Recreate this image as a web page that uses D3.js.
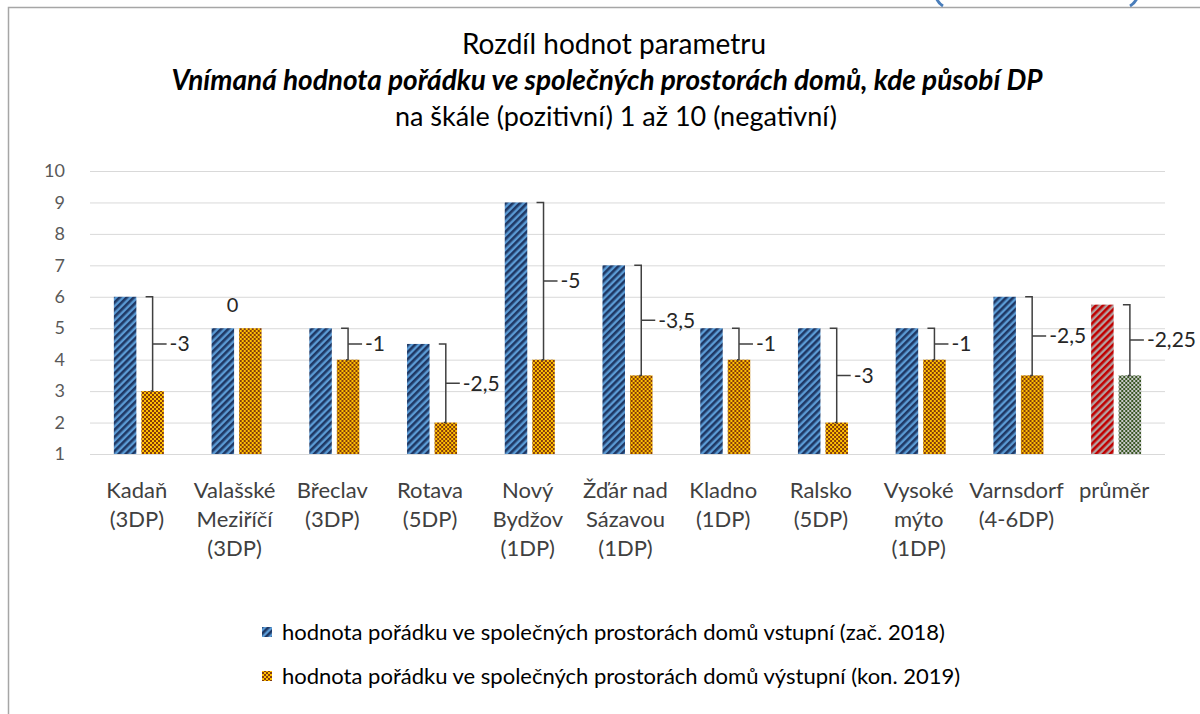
<!DOCTYPE html>
<html>
<head>
<meta charset="utf-8">
<script src="https://cdn.jsdelivr.net/npm/d3@7"></script>
<style>
  html, body { margin: 0; padding: 0; background: #fff; }
  svg { display: block; font-family: Lato, "Noto Sans", sans-serif; }
</style>
</head>
<body>
<svg id="chart" width="1200" height="714"></svg>
<script>
// chart data
const categories = [
  "Kadaň\n(3DP)", "Valašské\nMeziříčí\n(3DP)", "Břeclav\n(3DP)", "Rotava\n(5DP)",
  "Nový\nBydžov\n(1DP)", "Žďár nad\nSázavou\n(1DP)", "Kladno\n(1DP)", "Ralsko\n(5DP)",
  "Vysoké\nmýto\n(1DP)", "Varnsdorf\n(4-6DP)", "průměr"
];
const entryValues = [6, 5, 5, 4.5, 9, 7, 5, 5, 5, 6, 5.75];
const exitValues = [3, 5, 4, 2, 4, 3.5, 4, 2, 4, 3.5, 3.5];
const yTicks = [1, 2, 3, 4, 5, 6, 7, 8, 9, 10];
const titleLines = [
  "Rozdíl hodnot parametru",
  "Vnímaná hodnota pořádku ve společných prostorách domů, kde působí DP",
  "na škále (pozitivní) 1 až 10 (negativní)"
];
const legendLabels = [
  "hodnota pořádku ve společných prostorách domů vstupní (zač. 2018)",
  "hodnota pořádku ve společných prostorách domů výstupní (kon. 2019)"
];

const svg = d3.select("#chart");
const defs = svg.append("defs");

// hatch patterns, roughly like the office fills
function stripes(id, bg, fg) {
  let p = defs.append("pattern").attr("id", id)
    .attr("patternUnits", "userSpaceOnUse")
    .attr("width", 5).attr("height", 5)
    .attr("patternTransform", "rotate(45)");
  p.append("rect").attr("width", 5).attr("height", 5).attr("fill", bg);
  p.append("rect").attr("width", 2.6).attr("height", 5).attr("fill", fg);
}
function checks(id, bg, fg) {
  let p = defs.append("pattern").attr("id", id)
    .attr("patternUnits", "userSpaceOnUse")
    .attr("width", 4).attr("height", 4);
  p.append("rect").attr("width", 4).attr("height", 4).attr("fill", bg);
  p.append("rect").attr("width", 2).attr("height", 2).attr("fill", fg);
  p.append("rect").attr("x", 2).attr("y", 2).attr("width", 2).attr("height", 2).attr("fill", fg);
}
stripes("blueHatch", "#5b9bd5", "#1f3864");
stripes("redHatch", "#b4a0a0", "#c00000");
checks("orangeCheck", "#ffc000", "#843c0c");
checks("greenCheck", "#c8c8c8", "#385723");

// outer frame and the blue marks above it
svg.append("path")
  .attr("d", "M8.5,714 V7.5 H1200")
  .attr("fill", "none").attr("stroke", "#a6a6a6").attr("stroke-width", 1.5);
svg.append("path").attr("d", "M935,-8 Q936,2 943,6")
  .attr("fill", "none").attr("stroke", "#4a7ebb").attr("stroke-width", 3);
svg.append("path").attr("d", "M1139,-8 Q1137,2 1130,6")
  .attr("fill", "none").attr("stroke", "#4a7ebb").attr("stroke-width", 3);

// titles
const title = svg.append("g").attr("text-anchor", "middle").attr("fill", "#000");
title.append("text").attr("x", 614).attr("y", 54)
  .style("font-size", "28px").text(titleLines[0]);
title.append("text").attr("x", 607).attr("y", 90)
  .style("font-size", "28px").style("font-weight", "bold").style("font-style", "italic")
  .text(titleLines[1]);
title.append("text").attr("x", 616).attr("y", 126)
  .style("font-size", "27px").text(titleLines[2]);

// scales
const x0 = d3.scaleBand().domain(categories).range([90, 1165]).padding(0);
const x1 = d3.scaleBand().domain(["entry", "exit"]).range([0, x0.bandwidth()])
  .paddingInner(0.1818).paddingOuter(0.867);
const y = d3.scaleLinear().domain([1, 10]).range([454, 171]);

// grid + y labels
const yAxis = svg.append("g").attr("transform", "translate(90,0)")
  .call(d3.axisLeft(y).tickValues(yTicks).tickSize(-1075).tickPadding(25).tickFormat(d3.format("d")));
yAxis.select(".domain").remove();
yAxis.selectAll(".tick line").attr("stroke", "#d9d9d9");
yAxis.selectAll(".tick text").attr("fill", "#595959")
  .style("font-size", "18px").style("font-family", "Lato, sans-serif");

// bars
const last = categories.length - 1;
const rows = categories.map((c, i) => ({ cat: c, i: i, entry: entryValues[i], exit: exitValues[i] }));

const groups = svg.append("g").selectAll("g").data(rows).join("g")
  .attr("transform", d => "translate(" + x0(d.cat) + ",0)");

groups.append("rect")
  .attr("x", x1("entry")).attr("width", x1.bandwidth())
  .attr("y", d => y(d.entry)).attr("height", d => y(1) - y(d.entry))
  .attr("fill", d => d.i === last ? "url(#redHatch)" : "url(#blueHatch)");
groups.append("rect")
  .attr("x", x1("exit")).attr("width", x1.bandwidth())
  .attr("y", d => y(d.exit)).attr("height", d => y(1) - y(d.exit))
  .attr("fill", d => d.i === last ? "url(#greenCheck)" : "url(#orangeCheck)");

// difference brackets
const fmt = v => String(v).replace(".", ",");
groups.each(function(d) {
  let g = d3.select(this);
  let diff = d.exit - d.entry;
  let bx = x1("exit") + x1.bandwidth() / 2;
  if (diff === 0) {
    g.append("text").attr("x", x0.bandwidth() / 2 - 4).attr("y", y(d.entry) - 16)
      .attr("text-anchor", "middle").attr("fill", "#262626").style("font-size", "20px")
      .text(fmt(diff));
    return;
  }
  let top = y(d.entry), bot = y(d.exit), mid = (top + bot) / 2;
  g.append("path")
    .attr("d", "M" + (bx - 7) + "," + top + " H" + bx + " V" + bot + " H" + (bx - 2)
      + " M" + bx + "," + mid + " H" + (bx + 14))
    .attr("fill", "none").attr("stroke", "#404040").attr("stroke-width", 1.5);
  g.append("text").attr("x", bx + 17).attr("y", mid).attr("dy", "0.35em")
    .attr("fill", "#262626").style("font-size", "21px").text(fmt(diff));
});

// category labels
groups.append("text")
  .attr("text-anchor", "middle").attr("fill", "#404040").style("font-size", "22px")
  .selectAll("tspan").data(d => d.cat.split("\n")).join("tspan")
  .attr("x", x0.bandwidth() / 2 - 2)
  .attr("y", (t, k) => 498 + k * 29)
  .text(t => t);

// legend
const legend = svg.append("g").selectAll("g").data(legendLabels).join("g")
  .attr("transform", (d, i) => "translate(262," + (632 + i * 44) + ")");
legend.append("rect").attr("x", 0).attr("y", -5).attr("width", 10).attr("height", 10)
  .attr("fill", (d, i) => i === 0 ? "url(#blueHatch)" : "url(#orangeCheck)");
legend.append("text").attr("x", 20).attr("dy", "0.35em")
  .attr("fill", "#000").style("font-size", "22px").text(d => d);
</script>
</body>
</html>
